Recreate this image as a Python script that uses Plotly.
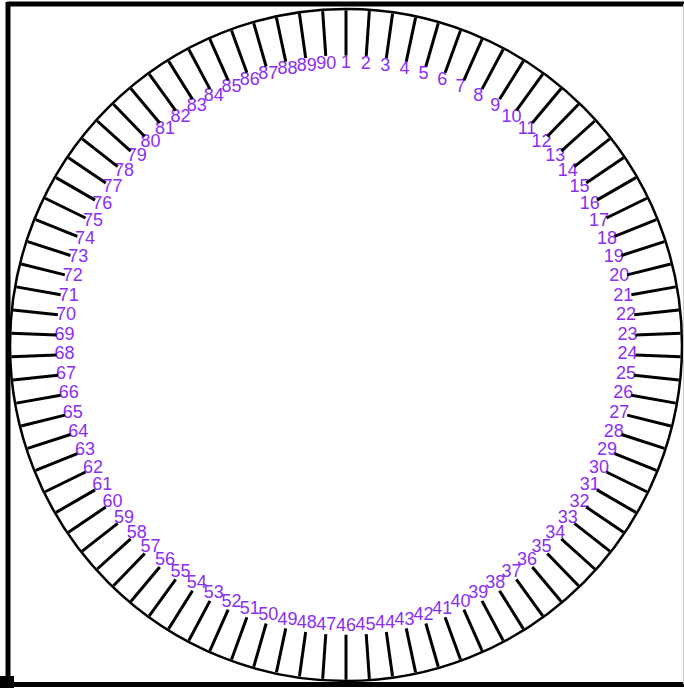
import plotly.graph_objects as go

# Dial labels, clockwise from the top
tick_labels = ["1", "2", "3", "4", "5", "6", "7", "8", "9", "10",
               "11", "12", "13", "14", "15", "16", "17", "18", "19", "20",
               "21", "22", "23", "24", "25", "26", "27", "28", "29", "30",
               "31", "32", "33", "34", "35", "36", "37", "38", "39", "40",
               "41", "42", "43", "44", "45", "46", "47", "48", "49", "50",
               "51", "52", "53", "54", "55", "56", "57", "58", "59", "60",
               "61", "62", "63", "64", "65", "66", "67", "68", "69", "70",
               "71", "72", "73", "74", "75", "76", "77", "78", "79", "80",
               "81", "82", "83", "84", "85", "86", "87", "88", "89", "90"]
label_radius = [0.838] * len(tick_labels)

W, H = 684, 688
PURPLE = "#8a2ef0"

fig = go.Figure()
fig.add_trace(go.Scatterpolar(
    r=label_radius, theta=tick_labels, mode="text", text=tick_labels,
    textposition="middle center",
    textfont=dict(family="Liberation Sans, Arial, sans-serif", size=18, color=PURPLE),
    hoverinfo="skip", showlegend=False,
))

def px_x(p):
    return p / W

def px_y(p):
    return 1 - p / H

fig.update_layout(
    width=W, height=H,
    margin=dict(l=0, r=0, t=0, b=0),
    paper_bgcolor="white", plot_bgcolor="white",
    showlegend=False,
    polar=dict(
        domain=dict(x=[px_x(10), px_x(682)], y=[px_y(682), px_y(8)]),
        bgcolor="white",
        radialaxis=dict(visible=False, range=[0, 1]),
        angularaxis=dict(
            type="category", categoryarray=tick_labels,
            direction="clockwise", rotation=90,
            showline=True, linecolor="black", linewidth=2.5,
            ticks="inside", ticklen=45, tickwidth=3, tickcolor="black",
            showticklabels=False, showgrid=False,
        ),
    ),
    shapes=[
        dict(type="line", xref="paper", yref="paper", x0=px_x(7), x1=px_x(684), y0=px_y(4), y1=px_y(4),
             line=dict(color="black", width=5)),
        dict(type="line", xref="paper", yref="paper", x0=px_x(8), x1=px_x(8), y0=px_y(2), y1=px_y(685),
             line=dict(color="black", width=5)),
        dict(type="line", xref="paper", yref="paper", x0=px_x(0), x1=px_x(684), y0=px_y(684.5), y1=px_y(684.5),
             line=dict(color="black", width=5)),
        dict(type="line", xref="paper", yref="paper", x0=px_x(683.5), x1=px_x(683.5), y0=px_y(4), y1=px_y(684),
             line=dict(color="#cccccc", width=1)),
        dict(type="rect", xref="paper", yref="paper", x0=px_x(0), x1=px_x(14), y0=px_y(676), y1=px_y(688),
             fillcolor="black", line=dict(width=0)),
    ],
)

fig.write_html("out.html", config={"displayModeBar": False},
               post_script="document.body.style.margin='0';")
